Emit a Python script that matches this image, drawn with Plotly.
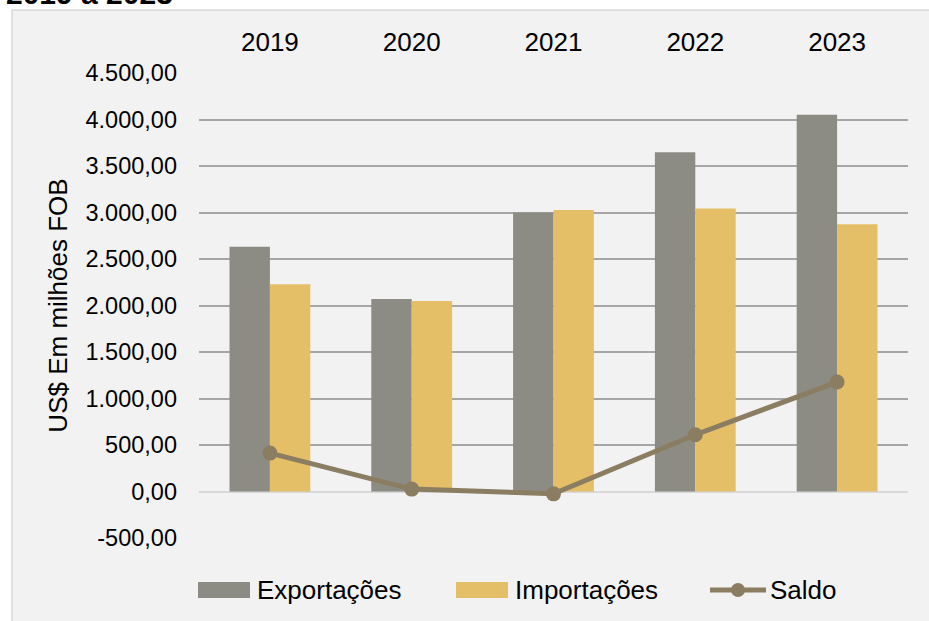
import plotly.graph_objects as go

anos = ["2019", "2020", "2021", "2022", "2023"]
exportacoes = [2633, 2070, 2999, 3648, 4050]
importacoes = [2228, 2049, 3028, 3042, 2873]
saldo = [413, 26, -25, 610, 1177]
y_ticks = [-500, 0, 500, 1000, 1500, 2000, 2500, 3000, 3500, 4000, 4500]
y_ticktext = [f"{v:,.2f}".replace(",", "X").replace(".", ",").replace("X", ".")
              for v in y_ticks]
nomes = ["Exportações", "Importações", "Saldo"]

COR_EXP = "#8c8c84"
COR_IMP = "#e4bf68"
COR_SAL = "#8b7d62"
FONT = "Liberation Sans, Arial, sans-serif"

fig = go.Figure()
fig.add_trace(go.Bar(name=nomes[0], x=anos, y=exportacoes,
                     marker=dict(color=COR_EXP, line=dict(width=0))))
fig.add_trace(go.Bar(name=nomes[1], x=anos, y=importacoes,
                     marker=dict(color=COR_IMP, line=dict(width=0))))
fig.add_trace(go.Scatter(name=nomes[2], x=anos, y=saldo, mode="lines+markers",
                         line=dict(color=COR_SAL, width=5),
                         marker=dict(color=COR_SAL, size=15)))

W, H = 929, 621
L, R, T, B = 199, W - 908, 73, H - 538
pw, ph = W - L - R, H - T - B

def px_x(p):
    return (p - L) / pw

def px_y(p):
    return (H - B - p) / ph

# chart area box
fig.add_shape(type="rect", xref="paper", yref="paper",
              x0=px_x(12), x1=px_x(940), y0=px_y(630), y1=px_y(10),
              fillcolor="#f2f2f2", line=dict(color="#d9d9d9", width=1.5),
              layer="below")

# title, cut off at the top edge as in the reference
fig.add_annotation(text="<b>2019 a 2023</b>", xref="paper", yref="paper",
                   x=px_x(4), y=px_y(12.5), xanchor="left", yanchor="bottom",
                   showarrow=False, font=dict(family=FONT, size=30, color="#000"))

# legend (drawn manually to match the wide swatches)
LY = 590
fig.add_shape(type="rect", xref="paper", yref="paper",
              x0=px_x(198), x1=px_x(250), y0=px_y(LY + 8), y1=px_y(LY - 8),
              fillcolor=COR_EXP, line=dict(width=0))
fig.add_shape(type="rect", xref="paper", yref="paper",
              x0=px_x(456), x1=px_x(508), y0=px_y(LY + 8), y1=px_y(LY - 8),
              fillcolor=COR_IMP, line=dict(width=0))
fig.add_shape(type="line", xref="paper", yref="paper",
              x0=px_x(710), x1=px_x(766), y0=px_y(LY), y1=px_y(LY),
              line=dict(color=COR_SAL, width=5))
fig.add_shape(type="circle", xref="paper", yref="paper",
              x0=px_x(731), x1=px_x(745), y0=px_y(LY + 7), y1=px_y(LY - 7),
              fillcolor=COR_SAL, line=dict(width=0))
for nome, xp in zip(nomes, [255, 513, 768]):
    fig.add_annotation(text=nome, xref="paper", yref="paper",
                       x=px_x(xp), y=px_y(LY), xanchor="left", yanchor="middle",
                       showarrow=False, font=dict(family=FONT, size=26, color="#000"))

fig.update_layout(
    width=W, height=H,
    margin=dict(l=L, r=R, t=T, b=B, autoexpand=False),
    paper_bgcolor="white",
    plot_bgcolor="rgba(0,0,0,0)",
    barmode="group",
    bargap=0.43,
    bargroupgap=0,
    showlegend=False,
    font=dict(family=FONT, size=23, color="#000"),
    xaxis=dict(side="top", showgrid=False, showline=False, ticks="",
               tickfont=dict(size=26), ticklabelstandoff=16, automargin=False),
    yaxis=dict(range=[-500, 4500], tickvals=y_ticks, ticktext=y_ticktext,
               showgrid=True, gridcolor="#a6a6a6", gridwidth=1.5,
               zeroline=True, zerolinecolor="#d9d9d9", zerolinewidth=2,
               showline=False, ticks="", ticklabelstandoff=21, automargin=False,
               tickfont=dict(size=23.5),
               title=dict(text="US$ Em milhões FOB", font=dict(size=26), standoff=10)),
)

fig.write_html("out.html",
               config={"displayModeBar": False},
               post_script="document.body.style.margin='0';"
                           "document.documentElement.style.overflow='hidden';")
